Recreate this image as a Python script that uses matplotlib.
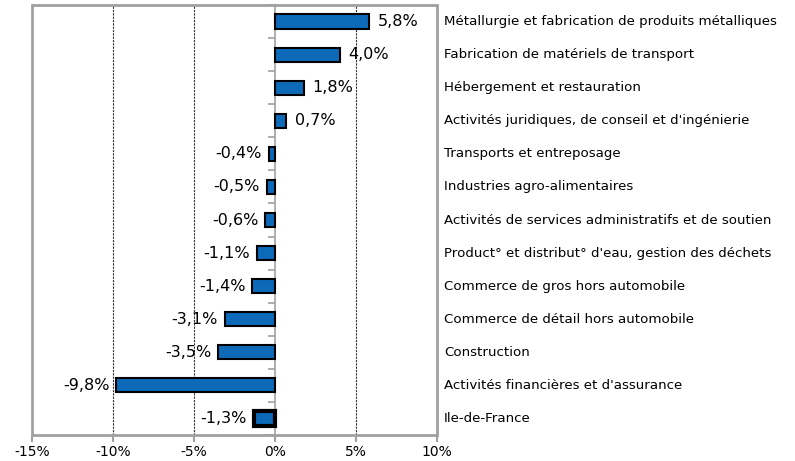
import matplotlib
matplotlib.use("Agg")
import matplotlib.pyplot as plt
from matplotlib.patches import Rectangle
import numpy as np

categories = [
    "Métallurgie et fabrication de produits métalliques",
    "Fabrication de matériels de transport",
    "Hébergement et restauration",
    "Activités juridiques, de conseil et d'ingénierie",
    "Transports et entreposage",
    "Industries agro-alimentaires",
    "Activités de services administratifs et de soutien",
    "Product° et distribut° d'eau, gestion des déchets",
    "Commerce de gros hors automobile",
    "Commerce de détail hors automobile",
    "Construction",
    "Activités financières et d'assurance",
    "Ile-de-France",
]
values = [5.8, 4.0, 1.8, 0.7, -0.4, -0.5, -0.6, -1.1, -1.4, -3.1, -3.5, -9.8, -1.3]
xticks = [-15, -10, -5, 0, 5, 10]

fig = plt.figure(figsize=(7.95, 4.61), dpi=100)
ax = fig.add_axes([32/795, 1-435/461, 405/795, 430/461])

n = len(categories)
y = np.arange(n)
edge_w = [1.5]*(n-1) + [3.0]
ax.barh(y, values, height=0.43, color="#0d6ab8", edgecolor="black",
        linewidth=edge_w, zorder=3)

ax.set_xlim(-15, 10)
ax.set_ylim(n-0.5, -0.5)

for v in [-10, -5, 5]:
    ax.axvline(v, color="#303030", lw=0.8, linestyle=(0, (2, 1)), zorder=1)

# zero axis with category boundary ticks
ax.spines["left"].set_position(("data", 0))
ax.spines["left"].set_color("#a0a0a0")
ax.spines["left"].set_linewidth(1.2)
ax.spines["left"].set_zorder(2)
for s in ["top", "right", "bottom"]:
    ax.spines[s].set_visible(False)
ax.add_patch(Rectangle((0, 0), 1, 1, transform=ax.transAxes, fill=False,
                       edgecolor="#a0a0a0", lw=2.0, clip_on=False, zorder=4))
ax.set_yticks(np.arange(n+1) - 0.5)
ax.set_yticklabels([])
ax.tick_params(axis="y", direction="out", length=5, color="#a0a0a0", width=1.2)

ax.set_xticks(xticks)
ax.set_xticklabels([f"{t}%" for t in xticks], fontsize=10)
ax.tick_params(axis="x", direction="out", length=5, color="#a0a0a0", width=1.5, pad=2)

for i, (v, c) in enumerate(zip(values, categories)):
    lab = f"{v:.1f}%".replace(".", ",")
    if v >= 0:
        ax.annotate(lab, (v, i), xytext=(6, 0), textcoords="offset points",
                    ha="left", va="center", fontsize=11.5, zorder=5)
    else:
        ax.annotate(lab, (v, i), xytext=(-5, 0), textcoords="offset points",
                    ha="right", va="center", fontsize=11.5, zorder=5)
    ax.annotate(c, (1, i), xycoords=("axes fraction", "data"), xytext=(5, 0),
                textcoords="offset points", ha="left", va="center", fontsize=9.6,
                annotation_clip=False)

fig.savefig("out.png", dpi=100)
